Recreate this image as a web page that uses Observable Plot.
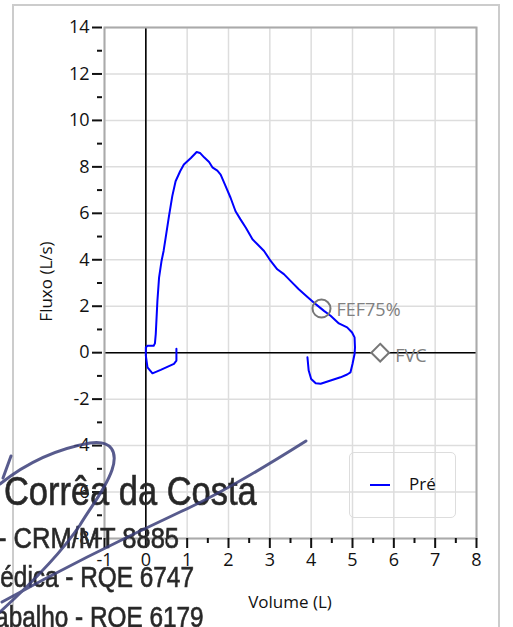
<!DOCTYPE html>
<html>
<head>
<meta charset="utf-8">
<script src="https://cdn.jsdelivr.net/npm/d3@7"></script>
<script src="https://cdn.jsdelivr.net/npm/@observablehq/plot@0.6"></script>
<style>
  body { margin: 0; background: #fff; font-family: "Open Sans", sans-serif; }
  #wrap { position: relative; width: 513px; height: 627px; overflow: hidden; }
  #outer { position: absolute; left: 12px; top: 4px; width: 488px; height: 700px; border: 2px solid #ccc; box-sizing: border-box; }
  #chart { position: absolute; left: 0; top: 0; }
  .lbl { position: absolute; font-size: 17px; color: #111; white-space: nowrap; }
  #ylabel { left: -55px; top: 270px; width: 200px; text-align: center; transform: rotate(-90deg); }
  #xlabel { left: 190px; top: 590px; width: 200px; text-align: center; }
  #legend { position: absolute; left: 349px; top: 452px; width: 107px; height: 66px; border: 1.5px solid #ddd; border-radius: 5px; box-sizing: border-box; }
  #legline { position: absolute; left: 20px; top: 31px; width: 20px; height: 2px; background: #0000ff; }
  #legtext { position: absolute; left: 59px; top: 19px; font-size: 17px; color: #111; }
  .stamp { position: absolute; font-family: "Liberation Sans", Arial, sans-serif; color: #262626; white-space: nowrap; filter: blur(0.6px); transform-origin: 0 0; -webkit-text-stroke: 0.7px #333; }
  #sig { position: absolute; left: 0; top: 0; filter: blur(0.4px); }
</style>
</head>
<body>
<div id="wrap">
  <div id="outer"></div>
  <div id="chart"></div>
  <div class="lbl" id="ylabel">Fluxo (L/s)</div>
  <div class="lbl" id="xlabel">Volume (L)</div>
  <div id="legend"><div id="legline"></div><div id="legtext">Pré</div></div>
  <div class="stamp" style="left:4px; top:468px; font-size:41px; transform:scaleX(0.84);">Corrêa da Costa</div>
  <div class="stamp" style="left:-2px; top:522px; font-size:29px; transform:scaleX(0.88);">- CRM/MT 8885</div>
  <div class="stamp" style="left:-20px; top:561px; font-size:29px; transform:scaleX(0.84);">Médica - RQE 6747</div>
  <div class="stamp" style="left:-27px; top:601px; font-size:29px; transform:scaleX(0.84);">Trabalho - RQE 6179</div>
  <svg id="sig" width="513" height="627">
    <g fill="none" stroke="#3b3f7a" stroke-width="3" stroke-linecap="round" opacity="0.85">
      <path d="M0,484 C20,468 50,450 90,443 C112,440 118,452 112,470 C105,490 92,505 80,525 C62,552 35,580 0,612"/>
      <path d="M2,602 C60,570 120,540 180,512 C220,494 260,470 306,441"/>
      <path d="M11,456 L3,478"/>
    </g>
  </svg>
</div>
<script>
// Flow-volume loop (Pré)
const volume = [0.74,0.74,0.68,0.36,0.16,0.04,0,0,0.04,0.19,0.22,0.24,0.28,0.32,0.38,0.43,0.48,0.56,0.64,0.72,0.83,0.92,1.09,1.23,1.31,1.41,1.53,1.61,1.73,1.81,1.93,2.05,2.17,2.29,2.42,2.58,2.70,2.86,3.02,3.18,3.34,3.50,3.70,3.91,4.11,4.31,4.47,4.67,4.87,4.99,5.05,5.06,5.05,5.00,4.95,4.87,4.71,4.47,4.23,4.11,4.00,3.94,3.91];
const flow   = [0.17,-0.34,-0.48,-0.74,-0.89,-0.63,-0.13,0.23,0.30,0.30,0.40,0.80,2.23,3.23,3.95,4.38,4.95,5.88,6.74,7.38,7.81,8.10,8.38,8.64,8.60,8.41,8.21,7.98,7.84,7.67,7.17,6.67,6.09,5.74,5.38,4.88,4.67,4.38,3.95,3.59,3.38,3.09,2.73,2.40,2.09,1.80,1.59,1.26,1.09,0.87,0.66,0.23,-0.06,-0.49,-0.85,-0.94,-1.06,-1.20,-1.34,-1.32,-1.13,-0.77,-0.20];

// Reference markers
const markerNames  = ["FEF75%", "FVC"];
const markerVolume = [4.25, 5.67];
const markerFlow   = [1.9, 0];

// Ticks
const xMajorTicks = [-1,0,1,2,3,4,5,6,7,8];
const xMinorTicks = [-0.5,0.5,1.5,2.5,3.5,4.5,5.5,6.5,7.5];
const yMajorTicks = [-8,-6,-4,-2,0,2,4,6,8,10,12,14];
const yMinorTicks = [-7,-5,-3,-1,1,3,5,7,9,11,13];

const curve = volume.map((v, i) => ({v, f: flow[i]}));
const markers = markerNames.map((name, i) => ({name, v: markerVolume[i], f: markerFlow[i]}));

const fmt = d => String(d);

const chart = Plot.plot({
  width: 513,
  height: 627,
  marginLeft: 104,
  marginRight: 37,
  marginTop: 27,
  marginBottom: 89,
  style: { background: "transparent", fontFamily: "Open Sans, sans-serif", fontSize: "18px", overflow: "visible" },
  x: { domain: [-1, 8] },
  y: { domain: [-8, 14] },
  marks: [
    Plot.gridX(xMajorTicks, { stroke: "#dddddd", strokeOpacity: 1, strokeWidth: 1.5 }),
    Plot.gridY(yMajorTicks, { stroke: "#dddddd", strokeOpacity: 1, strokeWidth: 1.5 }),
    Plot.ruleX([0], { stroke: "#000", strokeWidth: 1.6 }),
    Plot.ruleY([0], { stroke: "#000", strokeWidth: 1.6 }),
    Plot.line(curve, { x: "v", y: "f", stroke: "#0000ff", strokeWidth: 2 }),
    Plot.dot([markers[0]], { x: "v", y: "f", r: 9, stroke: "#777", strokeWidth: 2, fill: "none" }),
    Plot.dot([markers[1]], { x: "v", y: "f", r: 8, symbol: "diamond2", stroke: "#777", strokeWidth: 2, fill: "white" }),
    Plot.text([markers[0]], { x: "v", y: "f", text: "name", textAnchor: "start", dx: 15, dy: 2, fill: "#808080", fontSize: 18 }),
    Plot.text([markers[1]], { x: "v", y: "f", text: "name", textAnchor: "start", dx: 15, dy: 4, fill: "#808080", fontSize: 18 }),
    Plot.frame({ stroke: "#aaaaaa", strokeWidth: 2 }),
    Plot.axisX(xMajorTicks, { tickSize: 10, tickPadding: 5, strokeWidth: 2, stroke: "#111", fill: "#111", fontSize: 18, tickFormat: fmt, label: null }),
    Plot.axisX(xMinorTicks, { tickSize: 5, strokeWidth: 2, stroke: "#111", text: null, label: null }),
    Plot.axisY(yMajorTicks, { tickSize: 10, tickPadding: 3, dx: -2, strokeWidth: 2, stroke: "#111", fill: "#111", fontSize: 18, tickFormat: fmt, label: null }),
    Plot.axisY(yMinorTicks, { tickSize: 5, dx: -2, strokeWidth: 2, stroke: "#111", text: null, label: null })
  ]
});
document.getElementById("chart").appendChild(chart);
</script>
</body>
</html>
